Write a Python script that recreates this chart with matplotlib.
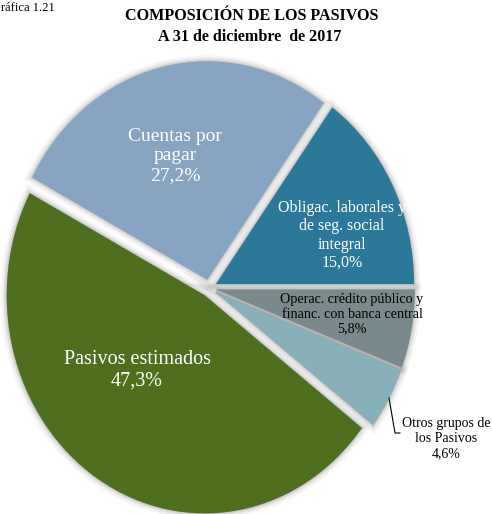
import matplotlib
matplotlib.use("Agg")
import matplotlib.pyplot as plt
from matplotlib.lines import Line2D

# ---- data ----
categories = ["Obligac. laborales y\nde seg. social\nintegral",
              "Cuentas por\npagar",
              "Pasivos estimados",
              "Otros grupos de\nlos Pasivos",
              "Operac. crédito público y\nfinanc. con banca central"]
values = [15.0, 27.2, 47.3, 4.6, 5.8]
value_labels = ["15,0%", "27,2%", "47,3%", "4,6%", "5,8%"]
colors = ["#2B7899", "#87A5C3", "#4E701E", "#87B0BB", "#7A898B"]
title_lines = ["COMPOSICIÓN DE LOS PASIVOS", "A 31 de diciembre  de 2017"]
figure_tag = "Gráfica 1.21"

# ---- layout ----
W, H = 492, 514
X0, Y0 = 209, 288       # pie centre in pixels (y downwards)
RX, RY = 198, 218       # pie radii in pixels (stretched)
explode = [0.04] * 5

plt.rcParams['font.family'] = ['Liberation Serif', 'DejaVu Serif']

fig = plt.figure(figsize=(W / 100, H / 100), dpi=100)
ax = fig.add_axes([0, 0, 1, 1])

# shadow layers
for lw, a in [(9, 0.05), (6, 0.07), (3.5, 0.10), (1.5, 0.14)]:
    sw, _ = ax.pie(values, explode=explode, startangle=0, counterclock=True,
                   colors=["#505050"] * 5,
                   wedgeprops=dict(linewidth=lw, edgecolor="#505050", alpha=a))
    for w in sw:
        w.set_zorder(1)

wedges, _ = ax.pie(values, explode=explode, startangle=0, counterclock=True,
                   colors=colors, wedgeprops=dict(linewidth=0))
for w in wedges:
    w.set_zorder(2)

ax.set_aspect('auto')
ax.set_xlim(-X0 / RX, (W - X0) / RX)
ax.set_ylim(-(H - Y0) / RY, Y0 / RY)
ax.axis('off')


def fx(px):
    return px / W


def fy(py):
    return 1 - py / H


# labels: (pixel centre, font size, colour)
label_pos = [(342, 235.5), (175, 156), (137, 370), (446, 439), (352, 314)]
label_size = [11.5, 14, 14.5, 10, 10.2]
label_color = ["white", "white", "white", "black", "black"]
for cat, val, (px, py), fs, col in zip(categories, value_labels, label_pos,
                                        label_size, label_color):
    fig.text(fx(px), fy(py), cat + "\n" + val, ha='center', va='center',
             fontsize=fs, color=col, linespacing=1.2, zorder=5)

# leader line for "Otros grupos"
fig.add_artist(Line2D([fx(389), fx(395), fx(400)], [fy(398), fy(433), fy(433)],
                      color='black', linewidth=0.8))

fig.text(fx(252), fy(16), title_lines[0], ha='center', va='center',
         fontsize=11.6, fontweight='bold')
fig.text(fx(250), fy(37), title_lines[1], ha='center', va='center',
         fontsize=11.6, fontweight='bold')
fig.text(fx(-8), fy(8), figure_tag, ha='left', va='center', fontsize=9)

fig.savefig("out.png", dpi=100)
